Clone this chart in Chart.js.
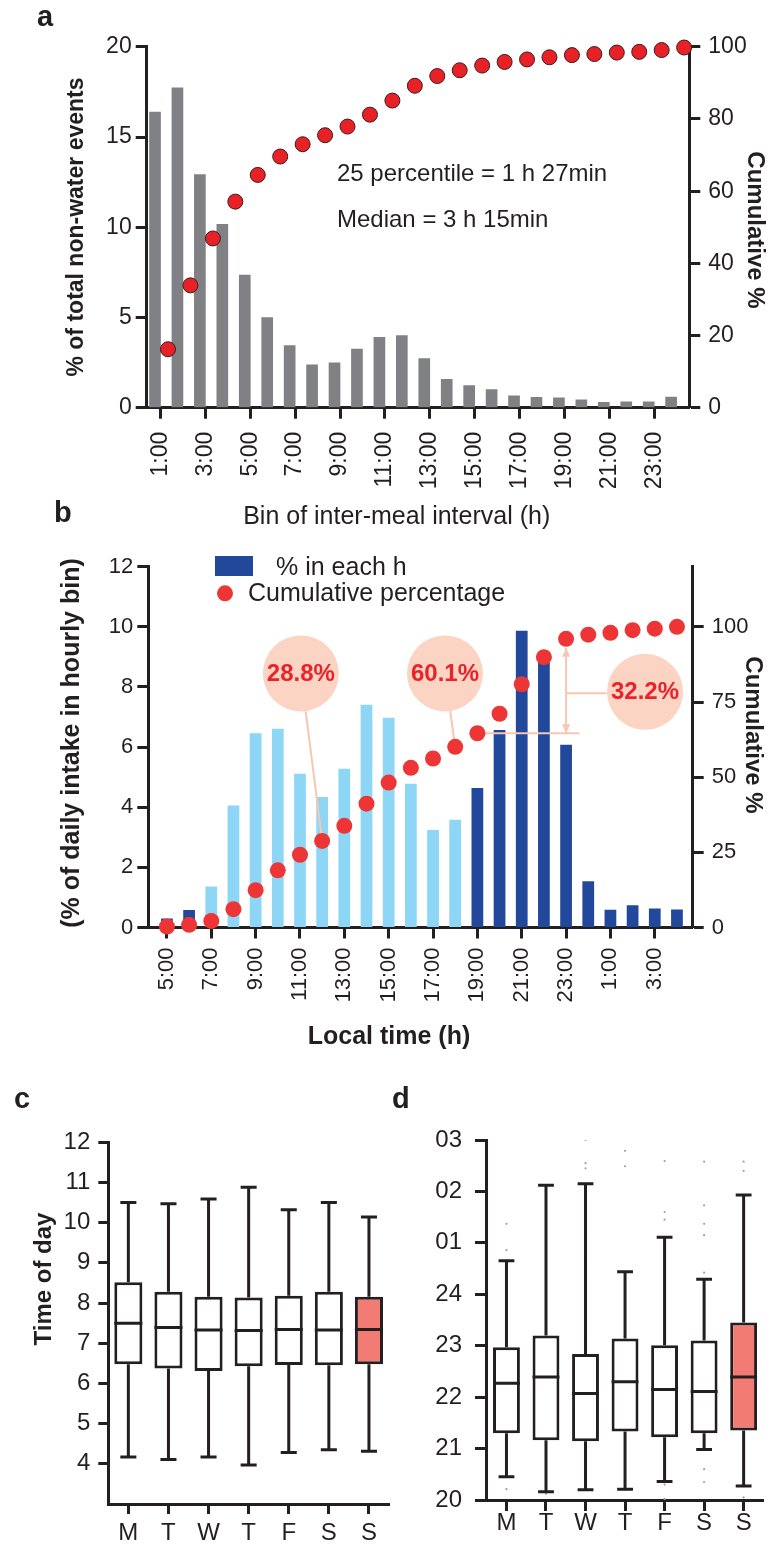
<!DOCTYPE html>
<html><head><meta charset="utf-8">
<script src="https://cdn.jsdelivr.net/npm/chart.js@4.4.0/dist/chart.umd.min.js"></script>
<style>
html,body{margin:0;padding:0;background:#fff;}
body{width:770px;height:1544px;position:relative;overflow:hidden;font-family:"Liberation Sans",Arial,Helvetica,sans-serif;}
canvas{position:absolute;}
.lbl{position:absolute;font-weight:bold;font-size:29px;line-height:1;color:#231f20;}
</style></head>
<body>
<canvas id="ca" width="770" height="540" style="left:0;top:0"></canvas>
<canvas id="cb" width="770" height="520" style="left:0;top:540px"></canvas>
<canvas id="cc" width="400" height="464" style="left:0;top:1080px"></canvas>
<canvas id="cd" width="385" height="464" style="left:385px;top:1080px"></canvas>
<div class="lbl" style="left:37px;top:2px">a</div>
<div class="lbl" style="left:54px;top:498px">b</div>
<div class="lbl" style="left:14px;top:1084px">c</div>
<div class="lbl" style="left:392px;top:1084px">d</div>
<script>
// ---------- Panel a : inter-meal interval ----------
const intervalBins = [1,2,3,4,5,6,7,8,9,10,11,12,13,14,15,16,17,18,19,20,21,22,23,24];
const intervalPct = [16.4,17.75,12.94,10.18,7.37,5.01,3.46,2.40,2.51,3.27,3.92,4.01,2.74,1.59,1.24,1.02,0.68,0.59,0.57,0.46,0.31,0.35,0.35,0.61];
const intervalCum = [16.2,33.9,46.9,57.1,64.5,69.6,73.0,75.5,77.9,81.2,85.1,89.2,91.9,93.5,94.8,95.8,96.5,97.1,97.7,98.0,98.4,98.6,99.1,99.8];
const intervalTickHours = [1,3,5,7,9,11,13,15,17,19,21,23];
const pctTicksA = [0,5,10,15,20];
const cumTicksA = [0,20,40,60,80,100];

// ---------- Panel b : hourly intake ----------
const hourLabels = ['5:00','6:00','7:00','8:00','9:00','10:00','11:00','12:00','13:00','14:00','15:00','16:00','17:00','18:00','19:00','20:00','21:00','22:00','23:00','0:00','1:00','2:00','3:00','4:00'];
const intakePct = [0.30,0.58,1.36,4.06,6.46,6.61,5.11,4.34,5.28,7.41,6.98,4.78,3.24,3.58,4.64,6.57,9.87,8.95,6.08,1.54,0.59,0.74,0.63,0.60];
const intakeCum = [0.3,0.9,2.2,6.1,12.4,19.0,24.2,28.8,33.8,41.2,48.2,53.1,56.2,60.1,64.6,71.1,80.9,89.9,96.0,97.4,98.0,98.9,99.4,100];
const intakeTickLabels = ['5:00','7:00','9:00','11:00','13:00','15:00','17:00','19:00','21:00','23:00','1:00','3:00'];
const pctTicksB = [0,2,4,6,8,10,12];
const cumTicksB = [0,25,50,75,100];
const annoLabels = ['28.8%','60.1%','32.2%'];

// ---------- Panel c : wake time by weekday ----------
const days = ['M','T','W','T','F','S','S'];
const wakeMin = [4.17,4.11,4.17,3.97,4.28,4.35,4.31];
const wakeQ1  = [6.48,6.37,6.31,6.43,6.46,6.45,6.48];
const wakeMed = [7.50,7.39,7.33,7.32,7.34,7.33,7.34];
const wakeQ3  = [8.52,8.28,8.16,8.14,8.18,8.28,8.16];
const wakeMax = [10.50,10.47,10.59,10.88,10.32,10.50,10.14];
const wakeTicks = [4,5,6,7,8,9,10,11,12];

// ---------- Panel d : sleep time by weekday (hours, >24 = after midnight) ----------
const sleepMin = [20.45,20.16,20.20,20.21,20.36,20.98,20.27];
const sleepQ1  = [21.30,21.16,21.14,21.33,21.22,21.30,21.35];
const sleepMed = [22.27,22.39,22.07,22.30,22.15,22.11,22.39];
const sleepQ3  = [22.97,23.20,22.84,23.14,23.01,23.10,23.45];
const sleepMax = [24.65,26.12,26.15,24.44,25.11,24.29,25.93];
const outlierDay = [0,0,0,1,2,2,2,2,3,3,3,4,4,4,4,4,5,5,5,5,5,5,5,6,6,6];
const outlierVal = [25.37,24.86,20.21,20.12,27.0,26.55,26.45,20.2,26.79,26.49,20.2,26.59,25.6,25.45,20.3,20.02,26.58,25.73,25.37,25.15,24.42,20.6,20.35,26.58,26.4,20.05];
const sleepTicks = [20,21,22,23,24,25,26,27];
const sleepTickLabels = ['20','21','22','23','24','01','02','03'];

// ---------- helpers ----------
const INK = '#231f20';
const FAMILY = '"Liberation Sans", Arial, Helvetica, sans-serif';
Chart.defaults.font.family = FAMILY;
Chart.defaults.color = INK;

function mkAxis(o) {
  const ax = {
    type: 'linear', position: o.position, min: o.min, max: o.max, offset: false,
    grid: { display: true, offset: false, drawOnChartArea: false, drawTicks: true,
            tickLength: o.tl ?? 11, tickWidth: 3, tickColor: INK, color: INK },
    border: { display: true, color: INK, width: 3 },
    ticks: { color: INK, font: { family: FAMILY, size: o.fs ?? 23 }, padding: o.pad ?? 6,
             autoSkip: false, maxRotation: o.rot ?? 0, minRotation: o.rot ?? 0 },
    afterBuildTicks: axis => { axis.ticks = o.ticks.map(v => ({ value: v })); },
    afterFit: axis => { if (axis.isHorizontal()) axis.height = o.size; else axis.width = o.size; }
  };
  if (o.cb) ax.ticks.callback = o.cb;
  return ax;
}
function txt(ctx, s, x, y, font, align, rot, color) {
  ctx.save();
  ctx.translate(x, y);
  ctx.rotate(rot || 0);
  ctx.font = font;
  ctx.fillStyle = color || INK;
  ctx.textAlign = align || 'center';
  ctx.textBaseline = 'middle';
  ctx.fillText(s, 0, 0);
  ctx.restore();
}
const baseOpts = (pad) => ({
  responsive: false, animation: false, devicePixelRatio: 1, events: [],
  layout: { padding: pad },
  plugins: { legend: { display: false }, tooltip: { enabled: false } }
});

// ---------- Chart a ----------
new Chart(document.getElementById('ca'), {
  type: 'bar',
  data: { datasets: [
    { type: 'bar', yAxisID: 'y', order: 1,
      data: intervalBins.map((b, i) => ({ x: b - 0.245, y: intervalPct[i] })),
      backgroundColor: '#808184', barPercentage: 0.52, categoryPercentage: 1 },
    { type: 'line', yAxisID: 'y2', order: 0, showLine: false, clip: false,
      data: intervalBins.map((b, i) => ({ x: b + 0.334, y: intervalCum[i] })),
      pointRadius: 7.5, pointBackgroundColor: '#e82127', pointBorderColor: '#3b1c1c', pointBorderWidth: 1 }
  ]},
  options: Object.assign(baseOpts({ top: 46.8, left: 0, right: 0, bottom: 0 }), {
    scales: {
      x: mkAxis({ position: 'bottom', min: 0.385, max: 24.565, ticks: intervalTickHours, rot: 90,
                  pad: 13, size: 132.3, cb: v => v + ':00' }),
      y: mkAxis({ position: 'left', min: 0, max: 20, ticks: pctTicksA, pad: 4, size: 146.7 }),
      y2: mkAxis({ position: 'right', min: 0, max: 100, ticks: cumTicksA, pad: 8, size: 80.7 })
    }
  }),
  plugins: [{
    id: 'textA',
    afterDraw(chart) {
      const c = chart.ctx;
      txt(c, '25 percentile = 1 h 27min', 337, 174, `24px ${FAMILY}`, 'left');
      txt(c, 'Median = 3 h 15min', 337, 220, `24px ${FAMILY}`, 'left');
      txt(c, '% of total non-water events', 76.7, 227, `bold 23px ${FAMILY}`, 'center', -Math.PI / 2);
      txt(c, 'Cumulative %', 755, 230, `bold 24px ${FAMILY}`, 'center', Math.PI / 2);
      txt(c, 'Bin of inter-meal interval (h)', 396.7, 517, `25px ${FAMILY}`, 'center');
    }
  }]
});

// ---------- Chart b ----------
const LIGHT = '#8dd6f6', DARK = '#22489c', DOT = '#ee3536', PEACH = '#fcd4c3', PEACH_LINE = '#f8c6b1', ANNO = '#e8242b';
const barColorsB = hourLabels.map(h => { const v = parseInt(h, 10); return (v >= 7 && v <= 18) ? LIGHT : DARK; });
const idxOf = h => hourLabels.indexOf(h);
const B_TOP = 540;
new Chart(document.getElementById('cb'), {
  type: 'bar',
  data: { datasets: [
    { type: 'bar', yAxisID: 'y', order: 1,
      data: hourLabels.map((h, i) => ({ x: i, y: intakePct[i] })),
      backgroundColor: barColorsB, barPercentage: 0.53, categoryPercentage: 1 },
    { type: 'line', yAxisID: 'y2', order: 0, showLine: false, clip: false,
      data: hourLabels.map((h, i) => ({ x: i, y: intakeCum[i] })),
      pointRadius: 8, pointBackgroundColor: DOT, pointBorderWidth: 0 }
  ]},
  options: Object.assign(baseOpts({ top: 566.7 - B_TOP, left: 0, right: 0, bottom: 0 }), {
    scales: {
      x: mkAxis({ position: 'bottom', min: -0.84, max: 23.71,
                  ticks: intakeTickLabels.map(l => idxOf(l)), rot: 90, fs: 22,
                  pad: 9, size: 1060 - 927.5, cb: v => hourLabels[v] }),
      y: mkAxis({ position: 'left', min: 0, max: 12, ticks: pctTicksB, pad: 4, fs: 22, size: 148.3 }),
      y2: mkAxis({ position: 'right', min: 0, max: 120, ticks: cumTicksB, pad: 8, fs: 22, size: 770 - 692.7 })
    }
  }),
  plugins: [{
    id: 'annoB',
    afterDatasetDraw(chart, args) {
      if (args.meta.type !== 'bar') return;
      const c = chart.ctx, xs = chart.scales.x, yl = chart.scales.y, yr = chart.scales.y2;
      const R = 38;
      const circles = [
        { x: xs.getPixelForValue(6.04), y: yl.getPixelForValue(8.45), t: annoLabels[0], target: idxOf('12:00') },
        { x: xs.getPixelForValue(12.54), y: yl.getPixelForValue(8.45), t: annoLabels[1], target: idxOf('18:00') },
        { x: xs.getPixelForValue(21.56), y: yl.getPixelForValue(7.84), t: annoLabels[2], target: null }
      ];
      c.save();
      c.strokeStyle = PEACH_LINE; c.fillStyle = PEACH_LINE; c.lineWidth = 2;
      // connectors to dots
      circles.forEach(ci => {
        if (ci.target === null) return;
        const tx = xs.getPixelForValue(ci.target), ty = yr.getPixelForValue(intakeCum[ci.target]);
        const dx = tx - ci.x, dy = ty - ci.y, L = Math.hypot(dx, dy);
        c.beginPath(); c.moveTo(ci.x + dx / L * R, ci.y + dy / L * R); c.lineTo(tx, ty); c.stroke();
      });
      // evening bracket
      const lo = idxOf('19:00'), hi = idxOf('23:00');
      const ax = xs.getPixelForValue(hi);
      const yLo = yr.getPixelForValue(intakeCum[lo]);
      const yHi = yr.getPixelForValue(intakeCum[hi]) + 9;
      c.beginPath(); c.moveTo(xs.getPixelForValue(lo), yLo); c.lineTo(xs.getPixelForValue(hi + 0.6), yLo); c.stroke();
      c.beginPath(); c.moveTo(ax, yLo); c.lineTo(ax, yHi); c.stroke();
      c.beginPath(); c.moveTo(ax, yHi); c.lineTo(ax - 4, yHi + 9); c.lineTo(ax + 4, yHi + 9); c.closePath(); c.fill();
      c.beginPath(); c.moveTo(ax, yLo); c.lineTo(ax - 4, yLo - 9); c.lineTo(ax + 4, yLo - 9); c.closePath(); c.fill();
      const c3 = circles[2];
      c.beginPath(); c.moveTo(ax, c3.y + 1.5); c.lineTo(c3.x - R, c3.y + 1.5); c.stroke();
      // circles
      c.fillStyle = PEACH;
      circles.forEach(ci => { c.beginPath(); c.arc(ci.x, ci.y, R, 0, Math.PI * 2); c.fill(); });
      c.restore();
      circles.forEach(ci => txt(c, ci.t, ci.x, ci.y + 1, `bold 24px ${FAMILY}`, 'center', 0, ANNO));
    },
    afterDraw(chart) {
      const c = chart.ctx;
      // legend
      c.save();
      c.fillStyle = DARK; c.fillRect(215, 556 - B_TOP, 38, 20);
      c.fillStyle = DOT; c.beginPath(); c.arc(225, 593.3 - B_TOP, 8, 0, Math.PI * 2); c.fill();
      c.restore();
      txt(c, '% in each h', 276, 567.7 - B_TOP, `25px ${FAMILY}`, 'left');
      txt(c, 'Cumulative percentage', 248, 594 - B_TOP, `25px ${FAMILY}`, 'left');
      // titles
      txt(c, '(% of daily intake in hourly bin)', 71.7, 743 - B_TOP, `bold 25px ${FAMILY}`, 'center', -Math.PI / 2);
      txt(c, 'Cumulative %', 753, 735 - B_TOP, `bold 24px ${FAMILY}`, 'center', Math.PI / 2);
      txt(c, 'Local time (h)', 389, 1037 - B_TOP, `bold 25px ${FAMILY}`, 'center');
    }
  }]
});

// ---------- Box plot builder (c, d) ----------
function boxChart(id, s, o) {
  const HALF = o.half, CAP = 0.2;
  const seg = [];
  const gap = i => ({ x: i, y: null });
  days.forEach((d, i) => {
    seg.push({ x: i, y: s.min[i] }, { x: i, y: s.q1[i] }, gap(i),
             { x: i, y: s.q3[i] }, { x: i, y: s.max[i] }, gap(i),
             { x: i - CAP, y: s.min[i] }, { x: i + CAP, y: s.min[i] }, gap(i),
             { x: i - CAP, y: s.max[i] }, { x: i + CAP, y: s.max[i] }, gap(i),
             { x: i - HALF, y: s.med[i] }, { x: i + HALF, y: s.med[i] }, gap(i));
  });
  const fills = days.map((d, i) => i === days.length - 1 ? '#f27c74' : '#ffffff');
  const datasets = [
    { type: 'line', order: 0, data: seg, borderColor: INK, borderWidth: 3, pointRadius: 0,
      spanGaps: false, fill: false, clip: false },
    { type: 'bar', order: 1, data: days.map((d, i) => ({ x: i, y: [s.q1[i], s.q3[i]] })),
      backgroundColor: fills, borderColor: INK, borderWidth: 3, borderSkipped: false,
      barPercentage: HALF * 2, categoryPercentage: 1 }
  ];
  if (s.outDay) {
    datasets.push({ type: 'line', order: 2, showLine: false,
      data: s.outDay.map((d, i) => ({ x: d, y: s.outVal[i] })),
      pointRadius: 1.1, pointBackgroundColor: '#a0a0a0', pointBorderWidth: 0 });
  }
  new Chart(document.getElementById(id), {
    type: 'bar',
    data: { datasets },
    options: Object.assign(baseOpts(o.padding), {
      scales: {
        x: mkAxis({ position: 'bottom', min: -0.5, max: 6.5, ticks: days.map((d, i) => i), fs: 24,
                    tl: o.xtl, pad: o.xpad, size: o.xsize, cb: v => days[v] }),
        y: mkAxis({ position: 'left', min: o.ymin, max: o.ymax, ticks: o.yticks, fs: 24,
                    tl: o.ytl, pad: o.ypad, size: o.ysize, cb: o.ycb })
      }
    }),
    plugins: [{ id: 'title' + id, afterDraw(chart) { if (o.title) o.title(chart.ctx); } }]
  });
}

boxChart('cc', { min: wakeMin, q1: wakeQ1, med: wakeMed, q3: wakeQ3, max: wakeMax }, {
  half: 0.35, padding: { top: 62.3, left: 0, right: 11, bottom: 0 },
  xtl: 10, xpad: 5, xsize: 40, ytl: 10, ypad: 8, ysize: 108.3,
  ymin: 3, ymax: 12, yticks: wakeTicks,
  title: ctx => txt(ctx, 'Time of day', 44, 199, `bold 24px ${FAMILY}`, 'center', -Math.PI / 2)
});

boxChart('cd', { min: sleepMin, q1: sleepQ1, med: sleepMed, q3: sleepQ3, max: sleepMax,
                 outDay: outlierDay, outVal: outlierVal }, {
  half: 0.34, padding: { top: 60, left: 0, right: 6.6, bottom: 0 },
  xtl: 11, xpad: -2, xsize: 44, ytl: 11.7, ypad: 13, ysize: 101.7,
  ymin: 20, ymax: 27, yticks: sleepTicks, ycb: (v, i) => sleepTickLabels[i]
});
</script>
</body></html>
